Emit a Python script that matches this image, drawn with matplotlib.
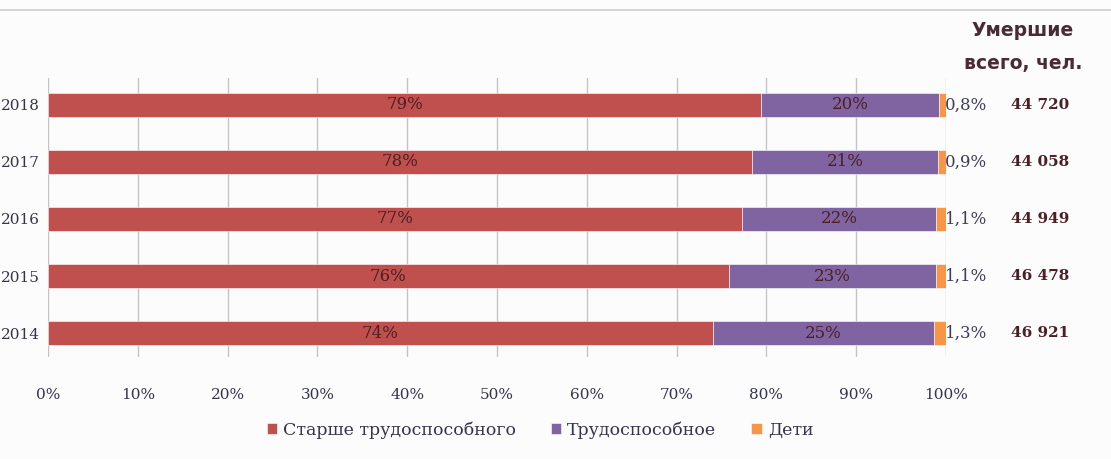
import numpy as np
import matplotlib.pyplot as plt
from matplotlib.lines import Line2D

years = ["2014", "2015", "2016", "2017", "2018"]
older = [74.0, 75.8, 77.3, 78.4, 79.4]
working = [24.7, 23.1, 21.6, 20.7, 19.8]
children = [1.3, 1.1, 1.1, 0.9, 0.8]
older_lbl = ["74%", "76%", "77%", "78%", "79%"]
working_lbl = ["25%", "23%", "22%", "21%", "20%"]
children_lbl = ["1,3%", "1,1%", "1,1%", "0,9%", "0,8%"]
totals = ["46 921", "46 478", "44 949", "44 058", "44 720"]
series_names = ["Старше трудоспособного", "Трудоспособное", "Дети"]
colors = ["#c0504d", "#8064a2", "#f79646"]

serif = "DejaVu Serif"
txt_col = "#4b1f24"
axis_col = "#34344a"

fig = plt.figure(figsize=(11.11, 4.59), dpi=100, facecolor="#fcfcfc")
ax = fig.add_axes([0.0432, 0.222, 0.8083, 0.608])
ax.set_facecolor("#fcfcfc")

y = np.arange(len(years))
h = 0.42
left = np.zeros(len(years))
bars = []
for vals, c, name in zip([older, working, children], colors, series_names):
    b = ax.barh(y, vals, left=left, height=h, color=c, label=name,
                edgecolor="#ffffff", linewidth=0.4, zorder=3)
    bars.append(b)
    left = left + np.array(vals)

# labels inside the red and purple parts, small share outside the bar
for i in range(len(years)):
    ax.text(older[i] / 2, y[i], older_lbl[i], ha="center", va="center",
            fontsize=12, fontfamily=serif, color=txt_col, zorder=4)
    ax.text(older[i] + working[i] / 2, y[i], working_lbl[i], ha="center",
            va="center", fontsize=12, fontfamily=serif, color=txt_col, zorder=4)
    ax.text(99.9, y[i], children_lbl[i], ha="left", va="center",
            fontsize=12, fontfamily=serif, color="#3c3c5a", zorder=4)
    ax.text(110.5, y[i], totals[i], ha="center", va="center", fontsize=11,
            fontfamily=serif, fontweight="bold", color=txt_col, clip_on=False)

# header above the totals column
fig.text(1023 / 1111, 1 - 30 / 459, "Умершие", ha="center", va="center",
         fontsize=13.5, fontweight="bold", color="#4a2a36")
fig.text(1023 / 1111, 1 - 63 / 459, "всего, чел.", ha="center", va="center",
         fontsize=13.5, fontweight="bold", color="#4a2a36")

ax.set_xlim(0, 100)
ax.set_ylim(-0.42, 4.47)
ax.set_xticks(np.arange(0, 101, 10))
ax.set_xticklabels([f"{v}%" for v in range(0, 101, 10)], fontfamily=serif,
                   fontsize=11, color=axis_col)
ax.set_yticks(y)
ax.set_yticklabels(years, fontfamily=serif, fontsize=11, color=axis_col)
ax.tick_params(axis="x", length=0, pad=22)
ax.tick_params(axis="y", length=0, pad=6)
ax.grid(axis="x", color="#c4c4c4", linewidth=1, zorder=0)
for s in ax.spines.values():
    s.set_visible(False)

fig.legend(handles=bars, labels=series_names, loc="center",
           bbox_to_anchor=(540 / 1111, 1 - 430 / 459), ncol=3, frameon=False,
           prop={"family": serif, "size": 12.5}, handlelength=0.6,
           handleheight=0.6, handletextpad=0.35, columnspacing=2.0,
           labelcolor=axis_col)

fig.add_artist(Line2D([0, 1], [1 - 10 / 459, 1 - 10 / 459],
                      transform=fig.transFigure, color="#cfcfcf", lw=1.2))

fig.savefig("out.png", dpi=100, facecolor=fig.get_facecolor())
